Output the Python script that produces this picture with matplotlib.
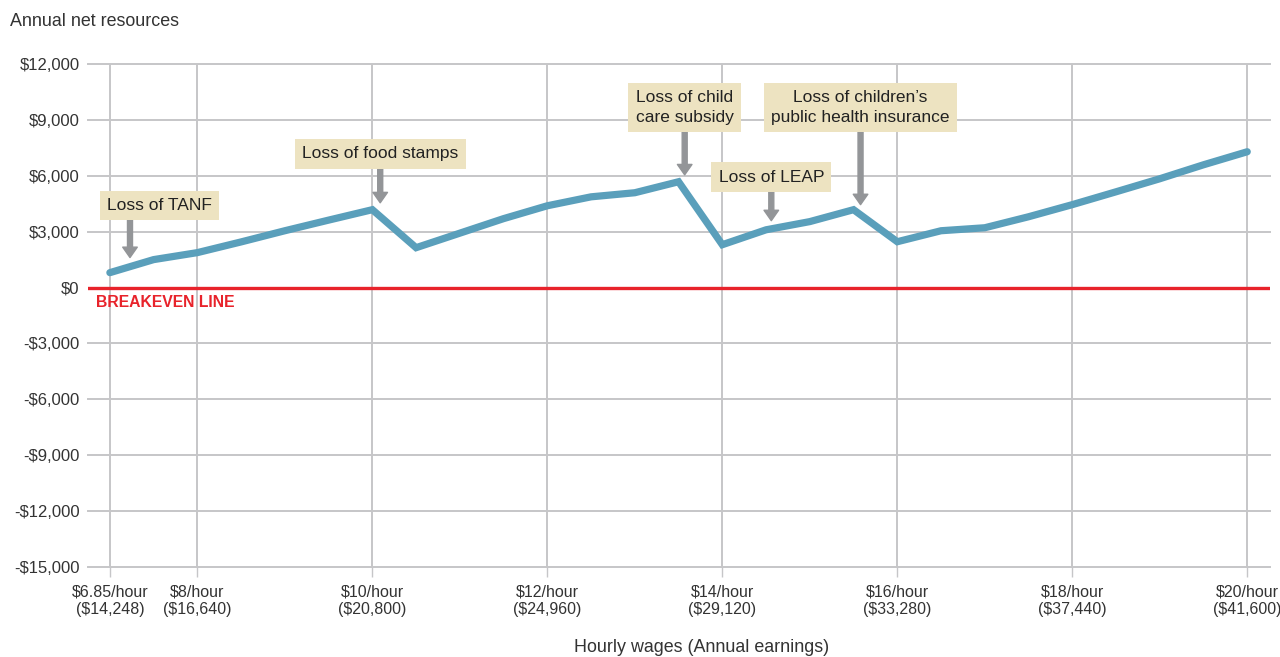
import matplotlib
matplotlib.use("Agg")
import matplotlib.pyplot as plt

# ---- data ----
wage_positions = [7, 7.5, 8, 8.5, 9, 9.5, 10, 10.5, 11, 11.5, 12, 12.5, 13, 13.5,
                  14, 14.5, 15, 15.5, 16, 16.5, 17, 17.5, 18, 18.5, 19, 19.5, 20]
net_resources = [800, 1500, 1875, 2450, 3050, 3620, 4180, 2140, 2920, 3700, 4390, 4870,
                 5090, 5680, 2300, 3100, 3540, 4180, 2460, 3050, 3210, 3800, 4450,
                 5140, 5840, 6590, 7290]
xtick_positions = [7, 8, 10, 12, 14, 16, 18, 20]
xtick_labels = ["$6.85/hour\n($14,248)", "$8/hour\n($16,640)", "$10/hour\n($20,800)",
                "$12/hour\n($24,960)", "$14/hour\n($29,120)", "$16/hour\n($33,280)",
                "$18/hour\n($37,440)", "$20/hour\n($41,600)"]
ytick_values = [12000, 9000, 6000, 3000, 0, -3000, -6000, -9000, -12000, -15000]
ytick_labels = ["$12,000", "$9,000", "$6,000", "$3,000", "$0", "-$3,000", "-$6,000",
                "-$9,000", "-$12,000", "-$15,000"]
annotation_texts = ["Loss of TANF", "Loss of food stamps", "Loss of child\ncare subsidy",
                    "Loss of LEAP", "Loss of children\u2019s\npublic health insurance"]

# ---- style ----
FONT = ["Liberation Sans Narrow", "Liberation Sans", "DejaVu Sans"]
SANS = ["Liberation Sans", "DejaVu Sans"]
TEXT_C = "#333333"
GRID_C = "#c6c6c8"
LINE_C = "#5a9fbb"
RED = "#e8232b"
BOX_C = "#ede3c1"
ARROW_C = "#939598"

W, H = 1280, 657
fig = plt.figure(figsize=(W / 100, H / 100), dpi=100)
ax = fig.add_axes([88 / W, (H - 567) / H, (1270 - 88) / W, (567 - 64) / H])
ax.set_xlim(6.75, 20.26)
ax.set_ylim(-15000, 12000)
for s in ax.spines.values():
    s.set_visible(False)

# grid
for yv in ytick_values:
    if yv != 0:
        ax.axhline(yv, color=GRID_C, lw=1.4, zorder=1, clip_on=False)
for xv in xtick_positions:
    ax.axvline(xv, color=GRID_C, lw=1.4, zorder=1)

ax.set_xticks(xtick_positions)
ax.set_xticklabels(xtick_labels, fontsize=11.5, color=TEXT_C, family=FONT, linespacing=1.25)
ax.tick_params(axis="x", length=7.5, width=1.0, color=GRID_C, pad=5)
ax.set_yticks(ytick_values)
ax.set_yticklabels(ytick_labels, fontsize=12, color=TEXT_C, family=SANS)
ax.tick_params(axis="y", length=0, pad=6)

# breakeven
ax.axhline(0, color=RED, lw=2.4, zorder=2)
ax.text(6.84, -420, "BREAKEVEN LINE", color=RED, fontsize=11.3, fontweight="bold",
        family=FONT, va="top", ha="left")

# main line
ax.plot(wage_positions, net_resources, color=LINE_C, lw=5.2, solid_joinstyle="miter",
        solid_capstyle="round", zorder=3)

# annotations: (text center x, text center y, arrow x, arrow start y, arrow tip y)
ann_pos = [(7.57, 4400, 7.23, 3640, 1610),
           (10.09, 7170, 10.09, 6430, 4550),
           (13.57, 9670, 13.57, 8360, 6050),
           (14.56, 5920, 14.56, 5140, 3590),
           (15.58, 9670, 15.58, 8360, 4450)]
for txt, (tx, ty, axx, y0, y1) in zip(annotation_texts, ann_pos):
    ax.text(tx, ty, txt, ha="center", va="center", fontsize=12.5, color="#222222",
            family=SANS, linespacing=1.4, zorder=5,
            bbox=dict(boxstyle="square,pad=0.42", fc=BOX_C, ec="none"))
    ax.annotate("", xy=(axx, y1), xytext=(axx, y0), zorder=4,
                arrowprops=dict(width=3.6, headwidth=10.5, headlength=7.5, color=ARROW_C,
                                shrink=0))

fig.text(10 / W, 1 - 21 / H, "Annual net resources", fontsize=12.9, color=TEXT_C,
         family=SANS, ha="left", va="center")
fig.text(702 / W, 1 - 648 / H, "Hourly wages (Annual earnings)", fontsize=12.9, color=TEXT_C,
         family=SANS, ha="center", va="center")

fig.savefig("out.png", dpi=100, facecolor="white")
